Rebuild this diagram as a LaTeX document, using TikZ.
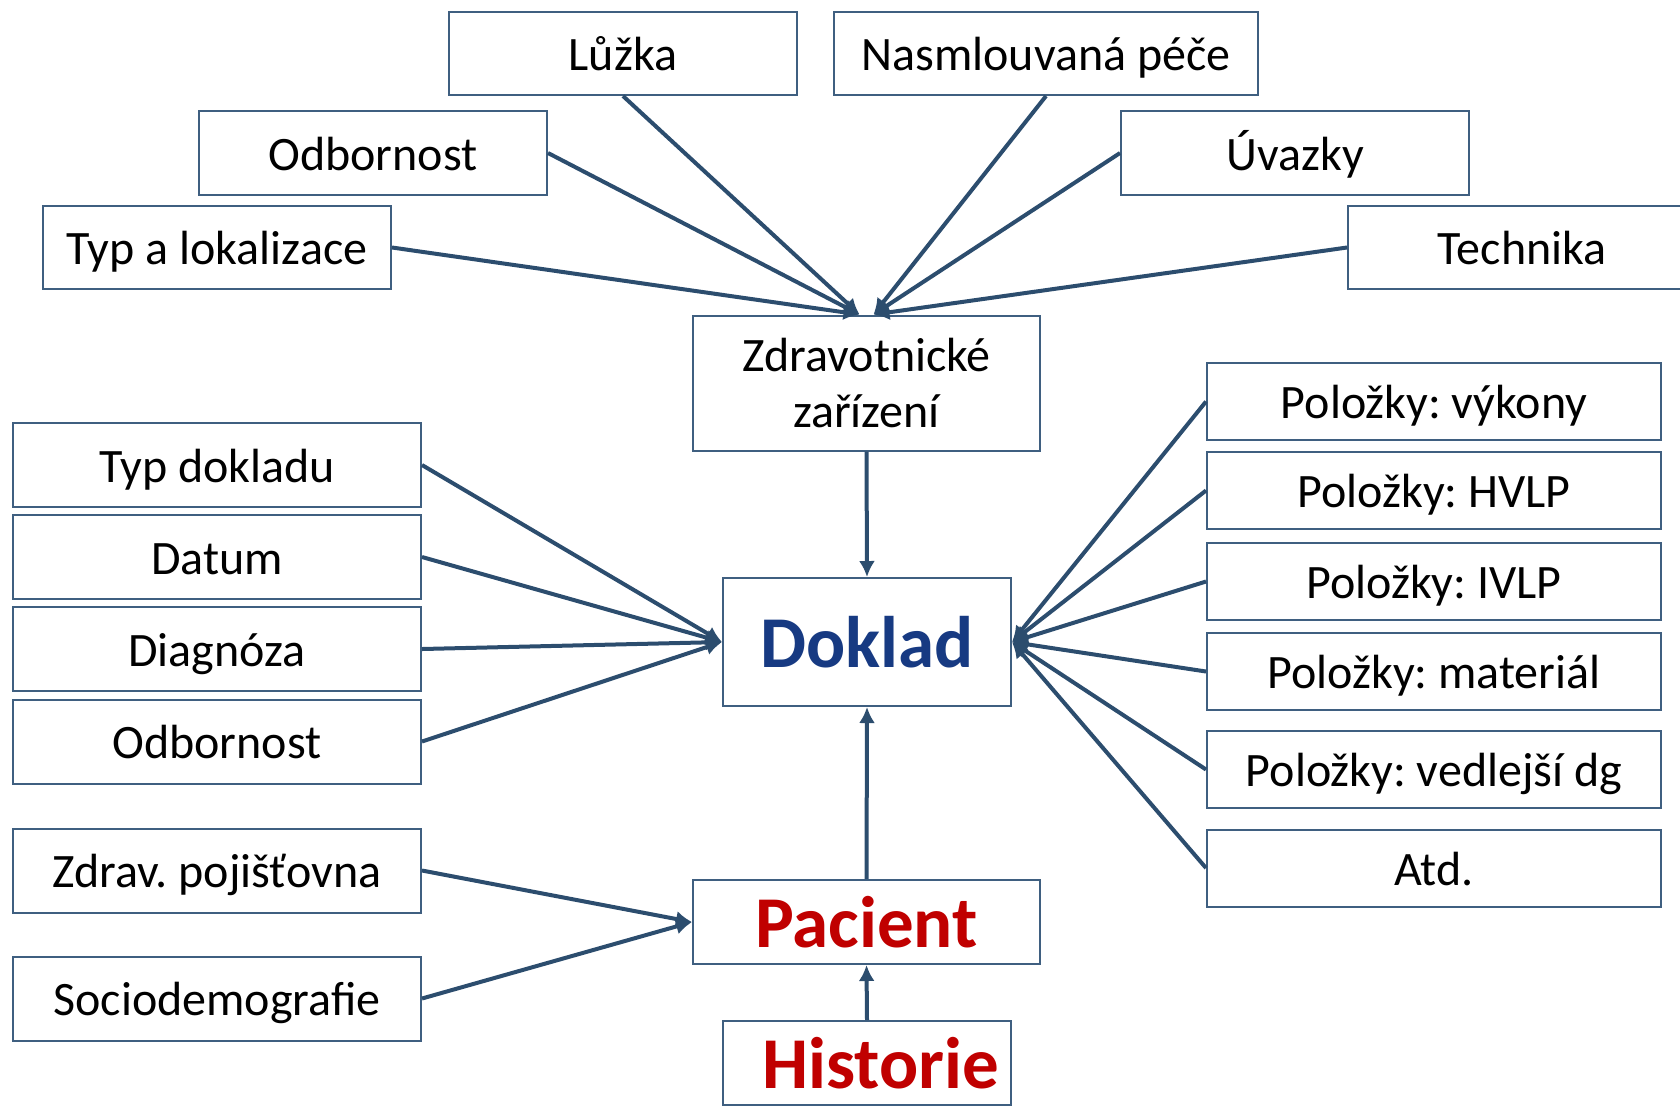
\documentclass[tikz,border=0pt]{standalone}
\usepackage{fontspec}
\setmainfont{Carlito}
\frenchspacing
\usetikzlibrary{arrows.meta}
\definecolor{linkblue}{HTML}{2C4D6E}
\definecolor{edgeblue}{HTML}{3F5F80}
\definecolor{dokblue}{HTML}{173A82}
\definecolor{darkred}{HTML}{C00000}
\tikzset{
  box/.style={draw=edgeblue, line width=1pt, inner sep=0pt, align=center,
    font=\fontsize{24}{28}\selectfont},
  oneline/.style={text height=21pt, text depth=4pt},
  topbox/.style={box, oneline, minimum width=174pt, minimum height=41.5pt},
  leftbox/.style={box, oneline, minimum width=204pt, minimum height=42pt},
  rightbox/.style={box, oneline, minimum width=227pt, minimum height=38.5pt},
  bigword/.style={text height=32pt, text depth=7pt, font=\fontsize{36.5}{40}\selectfont\bfseries},
  link/.style={draw=linkblue, line width=2pt, -{Latex[length=8pt,width=8pt]}}
}
\begin{document}
\begin{tikzpicture}[x=0.5pt, y=-0.5pt]
    \useasboundingbox (0,0) rectangle (1680,1105);

    % zdravotnické zařízení a jeho údaje
    \node[topbox] (luzka) at (623,53.5) {Lůžka};
    \node[topbox, minimum width=212pt] (pece) at (1046,53.5) {Nasmlouvaná péče};
    \node[topbox, minimum height=42pt] (odbzz) at (373,153) {Odbornost};
    \node[topbox, minimum height=42pt] (uvazky) at (1295,153) {Úvazky};
    \node[topbox] (typlok) at (217,247.5) {Typ a lokalizace};
    \node[topbox] (tech) at (1522,247.5) {Technika};
    \node[box, minimum width=173.5pt, minimum height=67.5pt] (zz) at (866.5,383) {Zdravotnické\\zařízení};

    % doklad, pacient, historie
    \node[box, bigword, text=dokblue, minimum width=144pt, minimum height=64pt] (doklad) at (867,642) {Doklad};
    \node[box, bigword, text=darkred, minimum width=173.5pt, minimum height=42pt] (pacient) at (866.5,922) {Pacient};
    \node[box, bigword, text=darkred, minimum width=144pt, minimum height=42pt] (historie) at (867,1063) {\hspace*{14pt}Historie};

    % údaje na levé straně
    \node[leftbox] (typdok) at (217,465) {Typ dokladu};
    \node[leftbox] (datum) at (217,557) {Datum};
    \node[leftbox] (diag) at (217,649) {Diagnóza};
    \node[leftbox] (odbdok) at (217,741.5) {Odbornost};
    \node[leftbox] (zp) at (217,870.5) {Zdrav. pojišťovna};
    \node[leftbox] (socio) at (217,998.5) {Sociodemografie};

    % položky na pravé straně
    \node[rightbox] (vykony) at (1434,401.5) {Položky: výkony};
    \node[rightbox] (hvlp) at (1434,490.5) {Položky: HVLP};
    \node[rightbox] (ivlp) at (1434,581.5) {Položky: IVLP};
    \node[rightbox] (mat) at (1434,671.5) {Položky: materiál};
    \node[rightbox] (vdg) at (1434,769.5) {Položky: vedlejší dg};
    \node[rightbox] (atd) at (1434,868) {Atd.};

    % šipky do zařízení
    \draw[link] (typlok.east) -- ([xshift=-3.5pt]zz.north);
    \draw[link] (odbzz.east) -- ([xshift=-3.5pt]zz.north);
    \draw[link] (luzka.south) -- ([xshift=-3.5pt]zz.north);
    \draw[link] (pece.south) -- ([xshift=3.5pt]zz.north);
    \draw[link] (uvazky.west) -- ([xshift=3.5pt]zz.north);
    \draw[link] (tech.west) -- ([xshift=3.5pt]zz.north);

    % šipky do dokladu
    \draw[link] (zz.south) -- (doklad.north);
    \draw[link] (pacient.north) -- (doklad.south);
    \draw[link] (typdok.east) -- (doklad.west);
    \draw[link] (datum.east) -- (doklad.west);
    \draw[link] (diag.east) -- (doklad.west);
    \draw[link] (odbdok.east) -- (doklad.west);
    \draw[link] (vykony.west) -- (doklad.east);
    \draw[link] (hvlp.west) -- (doklad.east);
    \draw[link] (ivlp.west) -- (doklad.east);
    \draw[link] (mat.west) -- (doklad.east);
    \draw[link] (vdg.west) -- (doklad.east);
    \draw[link] (atd.west) -- (doklad.east);

    % šipky k pacientovi
    \draw[link] (zp.east) -- (pacient.west);
    \draw[link] (socio.east) -- (pacient.west);
    \draw[link] (historie.north) -- (pacient.south);
\end{tikzpicture}
\end{document}
